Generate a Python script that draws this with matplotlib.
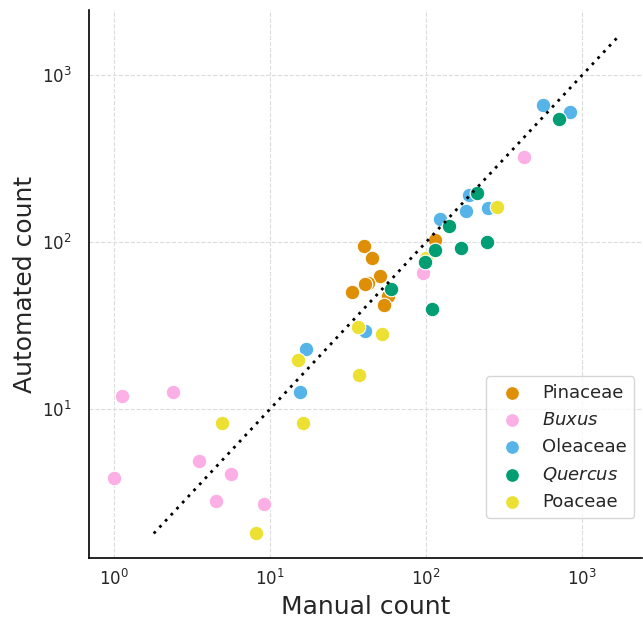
import numpy as np
import matplotlib
matplotlib.use("Agg")
import matplotlib.pyplot as plt
import seaborn as sns

# --- Data (manual vs automated counts per taxon) ---
taxa = ["Pinaceae", "Buxus", "Oleaceae", "Quercus", "Poaceae"]
labels = ["Pinaceae", "$\\it{Buxus}$", "Oleaceae", "$\\it{Quercus}$", "Poaceae"]

pinaceae_manual = [40, 45, 50.6, 42.6, 40.8, 33.3, 56.6, 54, 114]
pinaceae_auto = [95, 80, 63, 56.6, 56, 50, 47.5, 42, 103]

buxus_manual = [1.12, 2.4, 3.5, 1.0, 5.6, 4.5, 9.1, 96, 423]
buxus_auto = [12, 12.6, 4.9, 3.85, 4.1, 2.8, 2.7, 65, 321]

oleaceae_manual = [15.5, 17, 40.8, 123, 179, 188, 247, 557, 829]
oleaceae_auto = [12.7, 23, 29.3, 137, 153, 191, 159, 661, 603]

quercus_manual = [59.4, 98.6, 109, 114, 140, 166, 213, 245, 708]
quercus_auto = [52.4, 76, 39.5, 89, 125, 92, 196, 100, 543]

poaceae_manual = [4.9, 8.1, 15, 16.2, 36.8, 37.3, 52, 99, 286]
poaceae_auto = [8.2, 1.8, 19.6, 8.3, 31, 16, 28, 80, 161]

manual = [pinaceae_manual, buxus_manual, oleaceae_manual, quercus_manual, poaceae_manual]
auto = [pinaceae_auto, buxus_auto, oleaceae_auto, quercus_auto, poaceae_auto]

line_range = [1.8, 1750]

sns.set_style("white")
colors = sns.color_palette("colorblind")
palette = [colors[1], colors[6], colors[9], colors[2], colors[8]]
# Quercus sits on top of the others where they overlap
zorders = [3, 3, 3, 3.5, 3.2]

fig = plt.figure(figsize=(6.43, 6.23), dpi=100)
ax = fig.add_axes([0.138, 0.104, 0.86, 0.88])

for m, a, lab, c, z in zip(manual, auto, labels, palette, zorders):
    ax.scatter(m, a, s=110, color=c, edgecolor="white", linewidth=0.8, label=lab, zorder=z)

ax.plot(line_range, line_range, color="black", linestyle=(0, (1, 2)), linewidth=2, zorder=4)

ax.set_xscale("log")
ax.set_yscale("log")
ax.set_xlim(0.69, 2400)
ax.set_ylim(1.28, 2450)

ax.grid(True, which="major", linestyle="--", color="#dcdcdc", linewidth=0.8)
ax.minorticks_off()
ax.tick_params(labelsize=12, colors="#262626", length=0)
ax.tick_params(axis="y", pad=12)
ax.tick_params(axis="x", pad=8)

for side in ["top", "right"]:
    ax.spines[side].set_visible(False)
for side in ["left", "bottom"]:
    ax.spines[side].set_color("black")
    ax.spines[side].set_linewidth(1.2)

ax.set_xlabel("Manual count", fontsize=18, color="#262626")
ax.set_ylabel("Automated count", fontsize=18, color="#262626", labelpad=4)

ax.legend(loc="lower right", fontsize=13, handletextpad=0.7, borderpad=0.4,
          labelspacing=0.5, markerscale=0.95, bbox_to_anchor=(1.003, 0.057))

fig.savefig("out.png", dpi=100)
